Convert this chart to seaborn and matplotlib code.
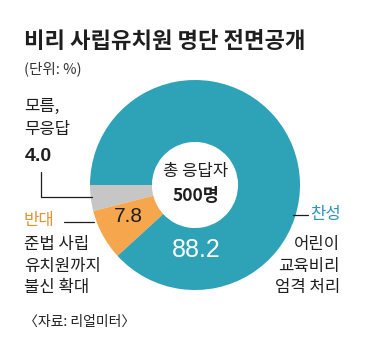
import matplotlib
matplotlib.use("Agg")
import matplotlib.pyplot as plt
import seaborn as sns

# Survey data (unit: %)
labels = ["모름, 무응답", "반대", "찬성"]
values = [4.0, 7.8, 88.2]
value_text = ["4.0", "7.8", "88.2"]
total_respondents = "500명"

title = "비리 사립유치원 명단 전면공개"
unit = "(단위: %)"
source = "〈자료: 리얼미터〉"

sns.set_theme(style="white")
plt.rcParams["font.family"] = ["Noto Sans CJK KR", "DejaVu Sans"]

palette = ["#c6c6c6", "#f6a64c", "#2ea2b6"]
ink = "#1e1e1e"
num_font = ["Liberation Sans", "DejaVu Sans"]

W, H = 365, 348
fig = plt.figure(figsize=(W / 100, H / 100), dpi=100)
fig.patch.set_facecolor("white")

# donut placed by pixel geometry: centre (195, 185), outer radius 105
cx, cy, R = 195, 185, 105
ax = fig.add_axes([(cx - R) / W, 1 - (cy + R) / H, 2 * R / W, 2 * R / H])
ax.pie(values, colors=palette, startangle=180, counterclock=True,
       radius=1.0, wedgeprops=dict(width=0.59, edgecolor="none"))
ax.set_xlim(-1, 1)
ax.set_ylim(-1, 1)
ax.set_aspect("equal")
ax.axis("off")

def px(x, y):
    return x / W, 1 - y / H

# title block
fig.text(*px(24, 41), title, fontsize=16, fontweight="bold", color=ink,
         va="center", ha="left")
fig.text(*px(24, 69), unit, fontsize=10.5, color="#333333", va="center", ha="left")

# centre of the donut
fig.text(*px(196, 172), "총 응답자", fontsize=12, color=ink, ha="center", va="center")
fig.text(*px(196, 196), total_respondents, fontsize=12.5, fontweight="bold",
         color=ink, ha="center", va="center")

# values on the ring
fig.text(*px(128, 216), value_text[1], fontsize=15, color=ink, ha="center", va="center",
         family=num_font)
fig.text(*px(196, 250), value_text[2], fontsize=18, color="white", ha="center", va="center",
         family=num_font)

# "don't know" annotation
fig.text(*px(24, 118), "모름,\n무응답", fontsize=12, color=ink, ha="left", va="center",
         linespacing=1.42)
fig.text(*px(25, 157), value_text[0], fontsize=14, fontweight="bold", color=ink,
         ha="left", va="center", family=num_font)
fig.add_artist(plt.Line2D([41 / W, 41 / W, 92 / W],
                          [1 - 172 / H, 1 - 197 / H, 1 - 197 / H],
                          color=ink, lw=0.9, transform=fig.transFigure))

# opposed annotation
fig.text(*px(24, 220), "반대", fontsize=12, color="#dd9433", ha="left", va="center")
fig.add_artist(plt.Line2D([64 / W, 94 / W], [1 - 222 / H, 1 - 222 / H],
                          color=ink, lw=0.9, transform=fig.transFigure))
fig.text(*px(24, 266), "준법 사립\n유치원까지\n불신 확대", fontsize=12, color=ink,
         ha="left", va="center", linespacing=1.32)

# in-favour annotation
fig.add_artist(plt.Line2D([293 / W, 308 / W], [1 - 215 / H, 1 - 215 / H],
                          color=ink, lw=0.9, transform=fig.transFigure))
fig.text(*px(310, 214), "찬성", fontsize=12, color="#2e93bd", ha="left", va="center")
fig.text(*px(340, 266), "어린이\n교육비리\n엄격 처리", fontsize=12, color=ink,
         ha="right", va="center", linespacing=1.32, multialignment="right")

# source
fig.text(*px(24, 322), source, fontsize=10, color=ink, ha="left", va="center")

fig.savefig("out.png", dpi=100, facecolor="white")
